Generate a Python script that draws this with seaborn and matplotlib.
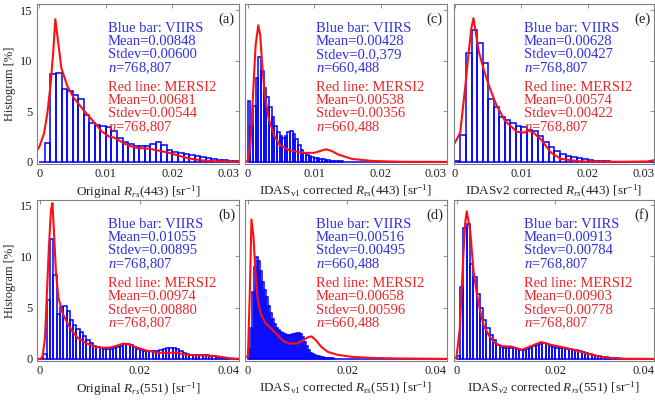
import numpy as np
import pandas as pd
import seaborn as sns
import matplotlib
matplotlib.use("Agg")
import matplotlib.pyplot as plt

# ---- values (histogram in %) ----
# top row: Rrs(443); bottom row: Rrs(551)
viirs_a = [0, 1.9, 8.7, 8.8, 7.2, 7.0, 6.6, 6.2, 4.6, 3.8, 3.7, 3.6, 3.5, 3.1, 2.4, 2.0, 1.8, 1.6,
           1.6, 1.6, 1.8, 2.0, 1.7, 1.2, 1.0, 0.9, 0.8, 0.7, 0.6, 0.5, 0.4, 0.3, 0.2, 0.15, 0.1, 0.05, 0.05]
mersi_a_x = [-0.0005, 0.0, 0.0007, 0.0012, 0.0017, 0.0021, 0.0024, 0.0028, 0.0033, 0.0042, 0.0052,
             0.0068, 0.0084, 0.0094, 0.0105, 0.0113, 0.0123, 0.0135, 0.0146, 0.0166, 0.0181, 0.0195,
             0.0210, 0.0225, 0.0245, 0.0270, 0.0312]
mersi_a_y = [1.0, 1.5, 2.8, 4.8, 7.7, 11.0, 14.1, 12.0, 9.3, 7.5, 6.3, 5.0, 3.8, 3.0, 2.5, 2.4, 2.0,
             1.6, 1.4, 1.3, 1.1, 0.9, 0.6, 0.35, 0.15, 0.05, 0.0]

viirs_c = [6.0, 3.6, 5.5, 8.3, 10.4, 9.0, 7.3, 6.4, 5.4, 4.4, 3.6, 3.0, 2.6, 2.4, 2.6, 3.0, 3.1, 2.8,
           2.3, 1.7, 1.2, 0.9, 0.7, 0.6, 0.5, 0.4, 0.35, 0.3, 0.25, 0.2, 0.15, 0.12, 0.1, 0.08, 0.06,
           0.05, 0.04, 0.03, 0.02, 0.02, 0.01] + [0] * 34
mersi_c_x = [-0.0004, 0.0, 0.0004, 0.0008, 0.0012, 0.0016, 0.0019, 0.0022, 0.0026, 0.0032, 0.0040,
             0.0048, 0.0063, 0.0084, 0.0100, 0.0110, 0.0118, 0.0126, 0.0136, 0.0157, 0.0188, 0.0230, 0.0312]
mersi_c_y = [0.0, 0.1, 1.5, 6.5, 11.5, 13.5, 12.5, 9.5, 6.5, 4.2, 2.6, 1.7, 1.15, 0.9, 0.9, 1.1, 1.25,
             1.1, 0.75, 0.3, 0.1, 0.02, 0.0]

viirs_e = [0.1, 2.7, 10.8, 13.0, 11.7, 9.8, 6.2, 5.4, 4.4, 4.1, 3.8, 3.6, 3.5, 3.2, 3.1, 2.6, 2.0, 1.5,
           1.1, 0.8, 0.6, 0.5, 0.4, 0.3, 0.2, 0.1, 0.05, 0.05, 0.03, 0.02, 0.02, 0.01, 0.01, 0.01, 0.01,
           0.01, 0.01]
mersi_e_x = [-0.0004, 0.0, 0.0008, 0.0016, 0.0021, 0.0025, 0.0028, 0.0032, 0.0036, 0.0044, 0.0052,
             0.0062, 0.0075, 0.0093, 0.0104, 0.0112, 0.0120, 0.0130, 0.0145, 0.0160, 0.0190, 0.0250,
             0.0290, 0.0302, 0.0312]
mersi_e_y = [1.6, 1.9, 2.9, 7.7, 11.0, 13.3, 14.2, 12.5, 10.9, 9.0, 7.4, 5.7, 4.1, 3.0, 2.9, 3.1, 2.8,
             2.2, 0.9, 0.3, 0.05, 0.02, 0.05, 0.2, 0.1]

viirs_b = [0.0, 0.5, 5.7, 11.7, 8.2, 4.4, 5.1, 5.2, 4.7, 3.8, 3.3, 2.9, 2.6, 2.2, 1.8, 1.6, 1.3, 1.2,
           1.1, 1.0, 1.0, 1.0, 1.1, 1.2, 1.3, 1.5, 1.5, 1.4, 1.2, 1.0, 0.9, 0.8, 0.8, 0.8, 0.8, 0.8,
           0.9, 1.0, 1.1, 1.1, 1.1, 1.0, 0.8, 0.6, 0.5, 0.4, 0.4, 0.4, 0.4, 0.4, 0.4, 0.3, 0.3, 0.2,
           0.2, 0.1, 0.05, 0.02, 0, 0]
mersi_b_x = [-0.0007, 0.0, 0.0005, 0.001, 0.0014, 0.0018, 0.0022, 0.0025, 0.0028, 0.0032, 0.0037,
             0.0045, 0.0055, 0.0065, 0.0075, 0.0090, 0.0105, 0.0120, 0.0140, 0.0155, 0.0168, 0.0180,
             0.0195, 0.0215, 0.0240, 0.0260, 0.0275, 0.0295, 0.0320, 0.0350, 0.0370, 0.0385, 0.0405]
mersi_b_y = [0.0, 0.0, 0.2, 2.0, 6.5, 11.0, 14.5, 15.2, 12.5, 8.5, 6.0, 4.5, 3.5, 2.7, 2.1, 1.6, 1.3,
             1.1, 1.1, 1.3, 1.5, 1.4, 1.1, 0.8, 0.6, 0.6, 0.6, 0.4, 0.35, 0.3, 0.15, 0.05, 0.0]

viirs_d = [1.0, 3.0, 6.5, 9.0, 9.9, 9.6, 8.6, 7.5, 6.7, 6.0, 5.2, 4.5, 3.9, 3.4, 3.0, 2.8, 2.6, 2.5,
           2.4, 2.3, 2.3, 2.3, 2.4, 2.4, 2.5, 2.5, 2.4, 2.1, 1.7, 1.3, 0.9, 0.6, 0.45, 0.35, 0.3, 0.25,
           0.2, 0.15, 0.12, 0.1, 0.08, 0.06, 0.05, 0.04, 0.03, 0.02, 0.01] + [0] * 53
mersi_d_x = [-0.0011, 0.0, 0.0004, 0.0007, 0.0011, 0.0015, 0.0019, 0.0025, 0.0035, 0.0048, 0.0060,
             0.0072, 0.0085, 0.0098, 0.0110, 0.0120, 0.0128, 0.0137, 0.0147, 0.0160, 0.0180, 0.0210,
             0.0250, 0.0300, 0.0412]
mersi_d_y = [0.0, 0.3, 7.0, 13.6, 12.0, 8.5, 6.0, 4.5, 3.5, 2.9, 2.3, 1.7, 1.5, 1.5, 1.8, 2.1, 2.2,
             1.8, 1.2, 0.7, 0.4, 0.2, 0.1, 0.05, 0.0]

viirs_f = [0.3, 7.0, 12.8, 13.2, 9.3, 8.0, 6.3, 5.0, 3.8, 3.0, 2.3, 1.8, 1.4, 1.2, 1.1, 1.1, 1.1, 1.1,
           1.0, 0.9, 0.9, 1.0, 1.1, 1.3, 1.4, 1.5, 1.6, 1.5, 1.3, 1.2, 1.1, 1.1, 1.1, 1.0, 1.0, 0.9,
           0.9, 0.8, 0.7, 0.6, 0.5, 0.4, 0.3, 0.25, 0.2, 0.15, 0.1, 0.07, 0.05, 0.03, 0.02,
           0, 0, 0, 0, 0, 0, 0, 0, 0]
mersi_f_x = [-0.0013, -0.0001, 0.0006, 0.0013, 0.0017, 0.002, 0.0027, 0.0034, 0.0041, 0.0048, 0.0055,
             0.0065, 0.0076, 0.009, 0.0111, 0.0132, 0.0153, 0.0171, 0.0188, 0.0209, 0.0237, 0.0265,
             0.0293, 0.0314, 0.0343, 0.0410]
mersi_f_y = [0.0, 0.1, 3.0, 10.0, 13.3, 14.4, 12.5, 8.5, 6.2, 4.5, 3.2, 2.3, 1.6, 1.25, 1.2, 0.9, 1.3,
             1.65, 1.4, 1.2, 0.9, 0.5, 0.2, 0.1, 0.02, 0.0]

# bin widths (top: 0.03 range, bottom: 0.04 range)
bin_width = {"a": 0.03 / 36, "c": 0.0004, "e": 0.03 / 36,
             "b": 0.04 / 60, "d": 0.0004, "f": 0.04 / 60}
x_range = {"a": (-0.00035, 0.030), "c": (-0.0004, 0.030), "e": (-0.00015, 0.030),
           "b": (-0.0006, 0.040), "d": (-0.0006, 0.040), "f": (-0.0006, 0.040)}

panel_letters = ["a", "c", "e", "b", "d", "f"]
viirs = {"a": viirs_a, "c": viirs_c, "e": viirs_e, "b": viirs_b, "d": viirs_d, "f": viirs_f}
mersi_x = {"a": mersi_a_x, "c": mersi_c_x, "e": mersi_e_x, "b": mersi_b_x, "d": mersi_d_x, "f": mersi_f_x}
mersi_y = {"a": mersi_a_y, "c": mersi_c_y, "e": mersi_e_y, "b": mersi_b_y, "d": mersi_d_y, "f": mersi_f_y}

viirs_mean = {"a": "0.00848", "c": "0.00428", "e": "0.00628", "b": "0.01055", "d": "0.00516", "f": "0.00913"}
viirs_std = {"a": "0.00600", "c": "0.0,379", "e": "0.00427", "b": "0.00895", "d": "0.00495", "f": "0.00784"}
mersi_mean = {"a": "0.00681", "c": "0.00538", "e": "0.00574", "b": "0.00974", "d": "0.00658", "f": "0.00903"}
mersi_std = {"a": "0.00544", "c": "0.00356", "e": "0.00422", "b": "0.00880", "d": "0.00596", "f": "0.00778"}
n_obs = {"a": "768,807", "c": "660,488", "e": "768,807", "b": "768,807", "d": "660,488", "f": "768,807"}

xlabels = {
    "a": r"Original $R_{rs}$(443) [sr$^{\mathrm{-1}}$]",
    "c": r"IDAS$_{\mathrm{v1}}$ corrected $R_{\mathrm{rs}}$(443) [sr$^{\mathrm{-1}}$]",
    "e": r"IDASv2 corrected $R_{rs}$(443) [sr$^{\mathrm{-1}}$]",
    "b": r"Original $R_{rs}$(551) [sr$^{\mathrm{-1}}$]",
    "d": r"IDAS$_{\mathrm{v1}}$ corrected $R_{\mathrm{rs}}$(551) [sr$^{\mathrm{-1}}$]",
    "f": r"IDAS$_{v2}$ corrected $R_{rs}$(551) [sr$^{\mathrm{-1}}$]",
}
top_ticks = [0, 0.01, 0.02, 0.03]
top_ticklabels = ["0", "0.01", "0.02", "0.03"]
bottom_ticks = [0, 0.02, 0.04]
bottom_ticklabels = ["0", "0.02", "0.04"]
y_ticks = [0, 5, 10, 15]

sns.set_theme(style="white")
plt.rcParams["font.family"] = ["Liberation Serif", "DejaVu Serif"]
plt.rcParams["mathtext.fontset"] = "custom"
plt.rcParams["mathtext.rm"] = "Liberation Serif"
plt.rcParams["mathtext.it"] = "Liberation Serif:italic"
plt.rcParams["mathtext.bf"] = "Liberation Serif:bold"

BLUE = "#0000ff"
RED = "#ff1010"
BLUE_TXT = "#3030e0"
RED_TXT = "#e82828"
SPINE = "#808080"
TXT_SIZE = 10.5

fig = plt.figure(figsize=(6.55, 4.0), dpi=100)
col_left = [0.0565, 0.374, 0.693]
col_w = [0.3084, 0.3084, 0.3055]
row_bottom = [0.59, 0.0975]
row_h = [0.40, 0.4025]

for i, key in enumerate(panel_letters):
    row, col = divmod(i, 3)
    ax = fig.add_axes([col_left[col], row_bottom[row], col_w[col], row_h[row]])

    heights = viirs[key]
    edges = (np.arange(len(heights) + 1) * bin_width[key]).tolist()
    centers = [(edges[k] + edges[k + 1]) / 2 for k in range(len(heights))]
    df = pd.DataFrame({"x": centers, "w": heights})
    sns.histplot(data=df, x="x", weights="w", bins=edges, element="bars", fill=False,
                 color=BLUE, linewidth=1.1, ax=ax)
    sns.lineplot(x=mersi_x[key], y=mersi_y[key], color=RED, linewidth=1.5, ax=ax)

    ax.set_xlim(*x_range[key])
    if row == 0:
        ax.set_xticks(top_ticks)
        ax.set_xticklabels(top_ticklabels)
        ax.set_ylim(-0.2, 15.6)
    else:
        ax.set_xticks(bottom_ticks)
        ax.set_xticklabels(bottom_ticklabels)
        ax.set_ylim(-0.2, 15.5)
    # last tick label sits inside the box, as in the original
    ax.get_xticklabels()[-1].set_horizontalalignment("right")
    ax.set_yticks(y_ticks)
    if col == 0:
        ax.set_ylabel("Histogram [%]", fontsize=9, labelpad=3)
    else:
        ax.set_yticklabels([])
        ax.set_ylabel("")
    ax.set_xlabel(xlabels[key], fontsize=9.5, labelpad=2)

    ax.tick_params(direction="in", top=True, right=True, length=3, width=0.6,
                   color=SPINE, labelsize=9, pad=3, labelcolor="#222222")
    for sp in ax.spines.values():
        sp.set_color(SPINE)
        sp.set_linewidth(0.8)

    # annotations
    tx = 0.35
    y0 = 0.85
    dy = 0.083
    blue_lines = ["Blue bar: VIIRS", "Mean=" + viirs_mean[key], "Stdev=" + viirs_std[key],
                  "$n$=" + n_obs[key]]
    red_lines = ["Red line: MERSI2", "Mean=" + mersi_mean[key], "Stdev=" + mersi_std[key],
                 "$n$=" + n_obs[key]]
    for j, s in enumerate(blue_lines):
        ax.text(tx, y0 - j * dy, s, transform=ax.transAxes, color=BLUE_TXT, fontsize=TXT_SIZE,
                va="center", ha="left")
    for j, s in enumerate(red_lines):
        ax.text(tx, y0 - 3 * dy - 0.12 - j * dy, s, transform=ax.transAxes, color=RED_TXT,
                fontsize=TXT_SIZE, va="center", ha="left")
    ax.text(0.94, 0.905, "(" + key + ")", transform=ax.transAxes, fontsize=TXT_SIZE,
            ha="center", va="center", color="#222222")

fig.savefig("out.png", dpi=100)
